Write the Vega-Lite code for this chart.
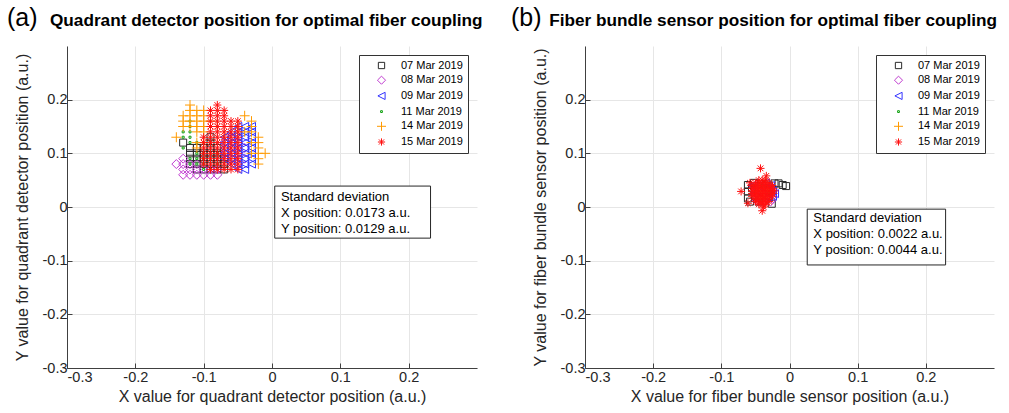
{
  "$schema": "https://vega.github.io/schema/vega-lite/v6.json",
  "background": "white",
  "padding": {"left": 7, "top": 6, "right": 5, "bottom": 2},
  "spacing": 28,
  "datasets": {
    "quad": [
      {"date":"07 Mar 2019","x":-0.13,"y":0.12},{"date":"07 Mar 2019","x":-0.12,"y":0.11},{"date":"07 Mar 2019","x":-0.12,"y":0.10},{"date":"07 Mar 2019","x":-0.12,"y":0.09},{"date":"07 Mar 2019","x":-0.12,"y":0.08},
      {"date":"07 Mar 2019","x":-0.11,"y":0.11},{"date":"07 Mar 2019","x":-0.11,"y":0.10},{"date":"07 Mar 2019","x":-0.11,"y":0.09},{"date":"07 Mar 2019","x":-0.11,"y":0.08},{"date":"07 Mar 2019","x":-0.11,"y":0.07},
      {"date":"07 Mar 2019","x":-0.10,"y":0.11},{"date":"07 Mar 2019","x":-0.10,"y":0.10},{"date":"07 Mar 2019","x":-0.10,"y":0.09},{"date":"07 Mar 2019","x":-0.10,"y":0.08},{"date":"07 Mar 2019","x":-0.10,"y":0.07},
      {"date":"07 Mar 2019","x":-0.09,"y":0.13},{"date":"07 Mar 2019","x":-0.09,"y":0.12},{"date":"07 Mar 2019","x":-0.09,"y":0.11},{"date":"07 Mar 2019","x":-0.09,"y":0.10},{"date":"07 Mar 2019","x":-0.09,"y":0.09},{"date":"07 Mar 2019","x":-0.09,"y":0.08},{"date":"07 Mar 2019","x":-0.09,"y":0.07},
      {"date":"07 Mar 2019","x":-0.08,"y":0.11},{"date":"07 Mar 2019","x":-0.08,"y":0.10},{"date":"07 Mar 2019","x":-0.08,"y":0.09},{"date":"07 Mar 2019","x":-0.08,"y":0.08},{"date":"07 Mar 2019","x":-0.08,"y":0.07},
      {"date":"07 Mar 2019","x":-0.07,"y":0.09},{"date":"07 Mar 2019","x":-0.07,"y":0.08},{"date":"07 Mar 2019","x":-0.07,"y":0.07},

      {"date":"08 Mar 2019","x":-0.14,"y":0.08},{"date":"08 Mar 2019","x":-0.13,"y":0.09},{"date":"08 Mar 2019","x":-0.13,"y":0.08},{"date":"08 Mar 2019","x":-0.13,"y":0.07},{"date":"08 Mar 2019","x":-0.13,"y":0.06},
      {"date":"08 Mar 2019","x":-0.12,"y":0.08},{"date":"08 Mar 2019","x":-0.12,"y":0.07},{"date":"08 Mar 2019","x":-0.12,"y":0.06},{"date":"08 Mar 2019","x":-0.11,"y":0.08},{"date":"08 Mar 2019","x":-0.11,"y":0.07},{"date":"08 Mar 2019","x":-0.11,"y":0.06},
      {"date":"08 Mar 2019","x":-0.10,"y":0.07},{"date":"08 Mar 2019","x":-0.10,"y":0.06},{"date":"08 Mar 2019","x":-0.09,"y":0.07},{"date":"08 Mar 2019","x":-0.09,"y":0.06},{"date":"08 Mar 2019","x":-0.08,"y":0.07},{"date":"08 Mar 2019","x":-0.08,"y":0.06},
      {"date":"08 Mar 2019","x":-0.07,"y":0.10},{"date":"08 Mar 2019","x":-0.07,"y":0.12},{"date":"08 Mar 2019","x":-0.06,"y":0.09},{"date":"08 Mar 2019","x":-0.06,"y":0.11},{"date":"08 Mar 2019","x":-0.06,"y":0.13},
      {"date":"08 Mar 2019","x":-0.05,"y":0.08},{"date":"08 Mar 2019","x":-0.05,"y":0.10},{"date":"08 Mar 2019","x":-0.05,"y":0.12},{"date":"08 Mar 2019","x":-0.04,"y":0.09},{"date":"08 Mar 2019","x":-0.04,"y":0.11},

      {"date":"09 Mar 2019","x":-0.07,"y":0.09},{"date":"09 Mar 2019","x":-0.07,"y":0.10},{"date":"09 Mar 2019","x":-0.07,"y":0.11},{"date":"09 Mar 2019","x":-0.07,"y":0.12},{"date":"09 Mar 2019","x":-0.07,"y":0.13},
      {"date":"09 Mar 2019","x":-0.06,"y":0.08},{"date":"09 Mar 2019","x":-0.06,"y":0.09},{"date":"09 Mar 2019","x":-0.06,"y":0.10},{"date":"09 Mar 2019","x":-0.06,"y":0.11},{"date":"09 Mar 2019","x":-0.06,"y":0.12},{"date":"09 Mar 2019","x":-0.06,"y":0.13},{"date":"09 Mar 2019","x":-0.06,"y":0.14},
      {"date":"09 Mar 2019","x":-0.05,"y":0.07},{"date":"09 Mar 2019","x":-0.05,"y":0.08},{"date":"09 Mar 2019","x":-0.05,"y":0.09},{"date":"09 Mar 2019","x":-0.05,"y":0.10},{"date":"09 Mar 2019","x":-0.05,"y":0.11},{"date":"09 Mar 2019","x":-0.05,"y":0.12},{"date":"09 Mar 2019","x":-0.05,"y":0.13},{"date":"09 Mar 2019","x":-0.05,"y":0.14},{"date":"09 Mar 2019","x":-0.05,"y":0.15},
      {"date":"09 Mar 2019","x":-0.04,"y":0.07},{"date":"09 Mar 2019","x":-0.04,"y":0.08},{"date":"09 Mar 2019","x":-0.04,"y":0.09},{"date":"09 Mar 2019","x":-0.04,"y":0.10},{"date":"09 Mar 2019","x":-0.04,"y":0.11},{"date":"09 Mar 2019","x":-0.04,"y":0.12},{"date":"09 Mar 2019","x":-0.04,"y":0.13},{"date":"09 Mar 2019","x":-0.04,"y":0.14},{"date":"09 Mar 2019","x":-0.04,"y":0.15},
      {"date":"09 Mar 2019","x":-0.03,"y":0.08},{"date":"09 Mar 2019","x":-0.03,"y":0.09},{"date":"09 Mar 2019","x":-0.03,"y":0.10},{"date":"09 Mar 2019","x":-0.03,"y":0.11},{"date":"09 Mar 2019","x":-0.03,"y":0.12},{"date":"09 Mar 2019","x":-0.03,"y":0.13},{"date":"09 Mar 2019","x":-0.03,"y":0.14},{"date":"09 Mar 2019","x":-0.03,"y":0.15},

      {"date":"11 Mar 2019","x":-0.13,"y":0.14},{"date":"11 Mar 2019","x":-0.13,"y":0.13},{"date":"11 Mar 2019","x":-0.13,"y":0.11},{"date":"11 Mar 2019","x":-0.12,"y":0.16},{"date":"11 Mar 2019","x":-0.12,"y":0.15},
      {"date":"11 Mar 2019","x":-0.12,"y":0.14},{"date":"11 Mar 2019","x":-0.12,"y":0.13},{"date":"11 Mar 2019","x":-0.12,"y":0.12},{"date":"11 Mar 2019","x":-0.11,"y":0.10},{"date":"11 Mar 2019","x":-0.11,"y":0.09},
      {"date":"11 Mar 2019","x":-0.11,"y":0.08},{"date":"11 Mar 2019","x":-0.10,"y":0.10},{"date":"11 Mar 2019","x":-0.10,"y":0.09},{"date":"11 Mar 2019","x":-0.10,"y":0.08},{"date":"11 Mar 2019","x":-0.10,"y":0.07},
      {"date":"11 Mar 2019","x":-0.12,"y":0.09},{"date":"11 Mar 2019","x":-0.12,"y":0.08},{"date":"11 Mar 2019","x":-0.08,"y":0.10},{"date":"11 Mar 2019","x":-0.08,"y":0.08},{"date":"11 Mar 2019","x":-0.11,"y":0.12},

      {"date":"14 Mar 2019","x":-0.14,"y":0.13},{"date":"14 Mar 2019","x":-0.13,"y":0.17},{"date":"14 Mar 2019","x":-0.13,"y":0.16},{"date":"14 Mar 2019","x":-0.13,"y":0.15},{"date":"14 Mar 2019","x":-0.12,"y":0.19},
      {"date":"14 Mar 2019","x":-0.12,"y":0.18},{"date":"14 Mar 2019","x":-0.12,"y":0.17},{"date":"14 Mar 2019","x":-0.12,"y":0.16},{"date":"14 Mar 2019","x":-0.12,"y":0.15},{"date":"14 Mar 2019","x":-0.11,"y":0.18},
      {"date":"14 Mar 2019","x":-0.11,"y":0.17},{"date":"14 Mar 2019","x":-0.11,"y":0.16},{"date":"14 Mar 2019","x":-0.11,"y":0.15},{"date":"14 Mar 2019","x":-0.11,"y":0.14},{"date":"14 Mar 2019","x":-0.10,"y":0.18},
      {"date":"14 Mar 2019","x":-0.10,"y":0.17},{"date":"14 Mar 2019","x":-0.10,"y":0.16},{"date":"14 Mar 2019","x":-0.10,"y":0.15},{"date":"14 Mar 2019","x":-0.10,"y":0.14},{"date":"14 Mar 2019","x":-0.09,"y":0.16},
      {"date":"14 Mar 2019","x":-0.09,"y":0.15},{"date":"14 Mar 2019","x":-0.08,"y":0.15},{"date":"14 Mar 2019","x":-0.11,"y":0.12},{"date":"14 Mar 2019","x":-0.10,"y":0.12},{"date":"14 Mar 2019","x":-0.11,"y":0.11},
      {"date":"14 Mar 2019","x":-0.04,"y":0.17},{"date":"14 Mar 2019","x":-0.03,"y":0.16},{"date":"14 Mar 2019","x":-0.03,"y":0.15},{"date":"14 Mar 2019","x":-0.03,"y":0.14},{"date":"14 Mar 2019","x":-0.02,"y":0.13},
      {"date":"14 Mar 2019","x":-0.02,"y":0.12},{"date":"14 Mar 2019","x":-0.02,"y":0.11},{"date":"14 Mar 2019","x":-0.02,"y":0.10},{"date":"14 Mar 2019","x":-0.01,"y":0.10},{"date":"14 Mar 2019","x":-0.02,"y":0.09},
      {"date":"14 Mar 2019","x":-0.02,"y":0.08},{"date":"14 Mar 2019","x":-0.03,"y":0.12},{"date":"14 Mar 2019","x":-0.03,"y":0.10},{"date":"14 Mar 2019","x":-0.04,"y":0.14},{"date":"14 Mar 2019","x":-0.05,"y":0.15},

      {"date":"15 Mar 2019","x":-0.08,"y":0.19},{"date":"15 Mar 2019","x":-0.09,"y":0.18},{"date":"15 Mar 2019","x":-0.08,"y":0.18},{"date":"15 Mar 2019","x":-0.07,"y":0.18},{"date":"15 Mar 2019","x":-0.09,"y":0.17},{"date":"15 Mar 2019","x":-0.08,"y":0.17},{"date":"15 Mar 2019","x":-0.07,"y":0.17},
      {"date":"15 Mar 2019","x":-0.10,"y":0.08},{"date":"15 Mar 2019","x":-0.10,"y":0.09},{"date":"15 Mar 2019","x":-0.10,"y":0.10},{"date":"15 Mar 2019","x":-0.10,"y":0.11},{"date":"15 Mar 2019","x":-0.10,"y":0.12},{"date":"15 Mar 2019","x":-0.10,"y":0.13},
      {"date":"15 Mar 2019","x":-0.09,"y":0.07},{"date":"15 Mar 2019","x":-0.09,"y":0.08},{"date":"15 Mar 2019","x":-0.09,"y":0.09},{"date":"15 Mar 2019","x":-0.09,"y":0.10},{"date":"15 Mar 2019","x":-0.09,"y":0.11},{"date":"15 Mar 2019","x":-0.09,"y":0.12},{"date":"15 Mar 2019","x":-0.09,"y":0.13},{"date":"15 Mar 2019","x":-0.09,"y":0.14},{"date":"15 Mar 2019","x":-0.09,"y":0.15},{"date":"15 Mar 2019","x":-0.09,"y":0.16},
      {"date":"15 Mar 2019","x":-0.08,"y":0.07},{"date":"15 Mar 2019","x":-0.08,"y":0.08},{"date":"15 Mar 2019","x":-0.08,"y":0.09},{"date":"15 Mar 2019","x":-0.08,"y":0.10},{"date":"15 Mar 2019","x":-0.08,"y":0.11},{"date":"15 Mar 2019","x":-0.08,"y":0.12},{"date":"15 Mar 2019","x":-0.08,"y":0.13},{"date":"15 Mar 2019","x":-0.08,"y":0.14},{"date":"15 Mar 2019","x":-0.08,"y":0.15},{"date":"15 Mar 2019","x":-0.08,"y":0.16},
      {"date":"15 Mar 2019","x":-0.07,"y":0.07},{"date":"15 Mar 2019","x":-0.07,"y":0.08},{"date":"15 Mar 2019","x":-0.07,"y":0.09},{"date":"15 Mar 2019","x":-0.07,"y":0.10},{"date":"15 Mar 2019","x":-0.07,"y":0.11},{"date":"15 Mar 2019","x":-0.07,"y":0.12},{"date":"15 Mar 2019","x":-0.07,"y":0.13},{"date":"15 Mar 2019","x":-0.07,"y":0.14},{"date":"15 Mar 2019","x":-0.07,"y":0.15},{"date":"15 Mar 2019","x":-0.07,"y":0.16},
      {"date":"15 Mar 2019","x":-0.06,"y":0.07},{"date":"15 Mar 2019","x":-0.06,"y":0.08},{"date":"15 Mar 2019","x":-0.06,"y":0.09},{"date":"15 Mar 2019","x":-0.06,"y":0.10},{"date":"15 Mar 2019","x":-0.06,"y":0.11},{"date":"15 Mar 2019","x":-0.06,"y":0.12},{"date":"15 Mar 2019","x":-0.06,"y":0.13},{"date":"15 Mar 2019","x":-0.06,"y":0.14},{"date":"15 Mar 2019","x":-0.06,"y":0.15},{"date":"15 Mar 2019","x":-0.06,"y":0.16},
      {"date":"15 Mar 2019","x":-0.05,"y":0.07},{"date":"15 Mar 2019","x":-0.05,"y":0.08},{"date":"15 Mar 2019","x":-0.05,"y":0.09},{"date":"15 Mar 2019","x":-0.05,"y":0.10},{"date":"15 Mar 2019","x":-0.05,"y":0.11},{"date":"15 Mar 2019","x":-0.05,"y":0.12},{"date":"15 Mar 2019","x":-0.05,"y":0.13},{"date":"15 Mar 2019","x":-0.05,"y":0.14},{"date":"15 Mar 2019","x":-0.05,"y":0.15},{"date":"15 Mar 2019","x":-0.05,"y":0.16}
    ],
    "fiber": [
      {"date":"07 Mar 2019","x":-0.061,"y":0.041},{"date":"07 Mar 2019","x":-0.061,"y":0.029},{"date":"07 Mar 2019","x":-0.061,"y":0.016},{"date":"07 Mar 2019","x":-0.055,"y":0.035},{"date":"07 Mar 2019","x":-0.050,"y":0.020},
      {"date":"07 Mar 2019","x":-0.045,"y":0.030},{"date":"07 Mar 2019","x":-0.040,"y":0.025},{"date":"07 Mar 2019","x":-0.035,"y":0.035},{"date":"07 Mar 2019","x":-0.030,"y":0.020},{"date":"07 Mar 2019","x":-0.026,"y":0.006},
      {"date":"07 Mar 2019","x":-0.022,"y":0.044},{"date":"07 Mar 2019","x":-0.016,"y":0.044},{"date":"07 Mar 2019","x":-0.010,"y":0.041},{"date":"07 Mar 2019","x":-0.005,"y":0.039},{"date":"07 Mar 2019","x":-0.045,"y":0.010},
      {"date":"07 Mar 2019","x":-0.030,"y":0.040},{"date":"07 Mar 2019","x":-0.052,"y":0.045},{"date":"07 Mar 2019","x":-0.058,"y":0.010},
      {"date":"08 Mar 2019","x":-0.050,"y":0.030},{"date":"08 Mar 2019","x":-0.045,"y":0.020},{"date":"08 Mar 2019","x":-0.040,"y":0.015},{"date":"08 Mar 2019","x":-0.035,"y":0.025},{"date":"08 Mar 2019","x":-0.030,"y":0.030},
      {"date":"08 Mar 2019","x":-0.025,"y":0.015},{"date":"08 Mar 2019","x":-0.028,"y":0.010},{"date":"08 Mar 2019","x":-0.042,"y":0.035},{"date":"08 Mar 2019","x":-0.036,"y":0.012},{"date":"08 Mar 2019","x":-0.048,"y":0.012},
      {"date":"09 Mar 2019","x":-0.055,"y":0.040},{"date":"09 Mar 2019","x":-0.050,"y":0.035},{"date":"09 Mar 2019","x":-0.045,"y":0.040},{"date":"09 Mar 2019","x":-0.035,"y":0.045},{"date":"09 Mar 2019","x":-0.030,"y":0.035},{"date":"09 Mar 2019","x":-0.025,"y":0.030},
      {"date":"09 Mar 2019","x":-0.022,"y":0.025},{"date":"09 Mar 2019","x":-0.028,"y":0.040},{"date":"09 Mar 2019","x":-0.040,"y":0.030},{"date":"09 Mar 2019","x":-0.052,"y":0.025},{"date":"09 Mar 2019","x":-0.025,"y":0.020},{"date":"09 Mar 2019","x":-0.032,"y":0.018},
      {"date":"11 Mar 2019","x":-0.045,"y":0.045},{"date":"11 Mar 2019","x":-0.040,"y":0.040},{"date":"11 Mar 2019","x":-0.035,"y":0.038},{"date":"11 Mar 2019","x":-0.050,"y":0.028},{"date":"11 Mar 2019","x":-0.030,"y":0.025},{"date":"11 Mar 2019","x":-0.042,"y":0.012},{"date":"11 Mar 2019","x":-0.038,"y":0.048},{"date":"11 Mar 2019","x":-0.048,"y":0.018},
      {"date":"14 Mar 2019","x":-0.045,"y":0.035},{"date":"14 Mar 2019","x":-0.040,"y":0.030},{"date":"14 Mar 2019","x":-0.035,"y":0.028},{"date":"14 Mar 2019","x":-0.042,"y":0.022},{"date":"14 Mar 2019","x":-0.038,"y":0.018},{"date":"14 Mar 2019","x":-0.048,"y":0.030},{"date":"14 Mar 2019","x":-0.032,"y":0.032},{"date":"14 Mar 2019","x":-0.044,"y":0.040},
      {"date":"15 Mar 2019","x":-0.045,"y":0.050},{"date":"15 Mar 2019","x":-0.040,"y":0.050},{"date":"15 Mar 2019","x":-0.035,"y":0.050},
      {"date":"15 Mar 2019","x":-0.050,"y":0.045},{"date":"15 Mar 2019","x":-0.045,"y":0.045},{"date":"15 Mar 2019","x":-0.040,"y":0.045},{"date":"15 Mar 2019","x":-0.035,"y":0.045},{"date":"15 Mar 2019","x":-0.030,"y":0.045},
      {"date":"15 Mar 2019","x":-0.055,"y":0.040},{"date":"15 Mar 2019","x":-0.050,"y":0.040},{"date":"15 Mar 2019","x":-0.045,"y":0.040},{"date":"15 Mar 2019","x":-0.040,"y":0.040},{"date":"15 Mar 2019","x":-0.035,"y":0.040},{"date":"15 Mar 2019","x":-0.030,"y":0.040},{"date":"15 Mar 2019","x":-0.025,"y":0.040},
      {"date":"15 Mar 2019","x":-0.055,"y":0.035},{"date":"15 Mar 2019","x":-0.050,"y":0.035},{"date":"15 Mar 2019","x":-0.045,"y":0.035},{"date":"15 Mar 2019","x":-0.040,"y":0.035},{"date":"15 Mar 2019","x":-0.035,"y":0.035},{"date":"15 Mar 2019","x":-0.030,"y":0.035},{"date":"15 Mar 2019","x":-0.025,"y":0.035},
      {"date":"15 Mar 2019","x":-0.055,"y":0.030},{"date":"15 Mar 2019","x":-0.050,"y":0.030},{"date":"15 Mar 2019","x":-0.045,"y":0.030},{"date":"15 Mar 2019","x":-0.040,"y":0.030},{"date":"15 Mar 2019","x":-0.035,"y":0.030},{"date":"15 Mar 2019","x":-0.030,"y":0.030},{"date":"15 Mar 2019","x":-0.025,"y":0.030},
      {"date":"15 Mar 2019","x":-0.055,"y":0.025},{"date":"15 Mar 2019","x":-0.050,"y":0.025},{"date":"15 Mar 2019","x":-0.045,"y":0.025},{"date":"15 Mar 2019","x":-0.040,"y":0.025},{"date":"15 Mar 2019","x":-0.035,"y":0.025},{"date":"15 Mar 2019","x":-0.030,"y":0.025},{"date":"15 Mar 2019","x":-0.025,"y":0.025},
      {"date":"15 Mar 2019","x":-0.055,"y":0.020},{"date":"15 Mar 2019","x":-0.050,"y":0.020},{"date":"15 Mar 2019","x":-0.045,"y":0.020},{"date":"15 Mar 2019","x":-0.040,"y":0.020},{"date":"15 Mar 2019","x":-0.035,"y":0.020},{"date":"15 Mar 2019","x":-0.030,"y":0.020},{"date":"15 Mar 2019","x":-0.025,"y":0.020},
      {"date":"15 Mar 2019","x":-0.050,"y":0.015},{"date":"15 Mar 2019","x":-0.045,"y":0.015},{"date":"15 Mar 2019","x":-0.040,"y":0.015},{"date":"15 Mar 2019","x":-0.035,"y":0.015},{"date":"15 Mar 2019","x":-0.030,"y":0.015},
      {"date":"15 Mar 2019","x":-0.050,"y":0.010},{"date":"15 Mar 2019","x":-0.045,"y":0.010},{"date":"15 Mar 2019","x":-0.040,"y":0.010},{"date":"15 Mar 2019","x":-0.035,"y":0.010},{"date":"15 Mar 2019","x":-0.030,"y":0.010},
      {"date":"15 Mar 2019","x":-0.045,"y":0.005},{"date":"15 Mar 2019","x":-0.040,"y":0.005},{"date":"15 Mar 2019","x":-0.035,"y":0.005},
      {"date":"15 Mar 2019","x":-0.0425,"y":0.072},{"date":"15 Mar 2019","x":-0.034,"y":0.058},{"date":"15 Mar 2019","x":-0.071,"y":0.029},{"date":"15 Mar 2019","x":-0.040,"y":-0.007},
      {"date":"15 Mar 2019","x":-0.061,"y":0.007},{"date":"15 Mar 2019","x":-0.038,"y":0.000},{"date":"15 Mar 2019","x":-0.058,"y":0.045},{"date":"15 Mar 2019","x":-0.022,"y":0.030}
    ]
  },
  "hconcat": [
    {
      "title": {"text": "(a)", "dx": -7, "subtitle": "\u200b\u00a0\u00a0\u00a0\u00a0\u00a0\u00a0\u00a0\u00a0\u00a0Quadrant detector position for optimal fiber coupling"},
      "width": 410,
      "height": 322,
      "layer": [
        {
          "data": {"values": [{}]},
          "mark": {"type": "rect", "fill": "white", "stroke": "#262626", "strokeWidth": 1},
          "encoding": {
            "x": {"datum": 0.004, "type": "quantitative"},
            "x2": {"datum": 0.232},
            "y": {"datum": 0.039, "type": "quantitative"},
            "y2": {"datum": -0.058}
          }
        },
        {
          "data": {"values": [{}]},
          "mark": {"type": "text", "align": "left", "baseline": "top", "fontSize": 13, "lineHeight": 16, "color": "black"},
          "encoding": {
            "x": {"datum": 0.013, "type": "quantitative"},
            "y": {"datum": 0.030, "type": "quantitative"},
            "text": {"value": ["Standard deviation", "X position: 0.0173 a.u.", "Y position: 0.0129 a.u."]}
          }
        },
        {
          "data": {"name": "quad"},
          "mark": {"type": "point", "filled": false, "strokeWidth": 1, "opacity": 1, "size": 100},
          "encoding": {
            "x": {"field": "x", "type": "quantitative", "scale": {"domain": [-0.3, 0.3], "nice": false, "zero": false},
                  "axis": {"title": "X value  for quadrant detector position (a.u.)", "values": [-0.3, -0.2, -0.1, 0, 0.1, 0.2], "format": ".1~f", "labelExpr": "replace(datum.label, '\u2212', '-')"}},
            "y": {"field": "y", "type": "quantitative", "scale": {"domain": [-0.3, 0.3], "nice": false, "zero": false},
                  "axis": {"title": "Y value  for quadrant detector position (a.u.)", "values": [-0.3, -0.2, -0.1, 0, 0.1, 0.2], "format": ".1~f", "labelExpr": "replace(datum.label, '\u2212', '-')"}},
            "shape": {"field": "date", "type": "nominal", "legend": {"title": null},
                      "scale": {"domain": ["07 Mar 2019","08 Mar 2019","09 Mar 2019","11 Mar 2019","14 Mar 2019","15 Mar 2019"],
                                "range": ["M-0.7,-0.7L0.7,-0.7L0.7,0.7L-0.7,0.7Z", "M0,-0.9L0.9,0L0,0.9L-0.9,0Z", "M-0.8,0L0.8,-0.8L0.8,0.8Z", "M-0.2,-0.2L0.2,-0.2L0.2,0.2L-0.2,0.2Z", "M-1,0L1,0M0,-1L0,1", "M-0.8,0L0.8,0M0,-0.8L0,0.8M-0.57,-0.57L0.57,0.57M-0.57,0.57L0.57,-0.57"]}},
            "color": {"field": "date", "type": "nominal", "legend": {"title": null},
                      "scale": {"domain": ["07 Mar 2019","08 Mar 2019","09 Mar 2019","11 Mar 2019","14 Mar 2019","15 Mar 2019"],
                                "range": ["#2a2a2a", "#c03cd0", "#3333ff", "#10a010", "#ff9a00", "#ff1010"]}}
          }
        }
      ]
    },
    {
      "title": {"text": "(b)", "dx": -21, "subtitle": "\u200b\u00a0\u00a0\u00a0\u00a0\u00a0\u00a0\u00a0\u00a0Fiber bundle sensor position for optimal fiber coupling"},
      "width": 409,
      "height": 322,
      "layer": [
        {
          "data": {"values": [{}]},
          "mark": {"type": "rect", "fill": "white", "stroke": "#262626", "strokeWidth": 1},
          "encoding": {
            "x": {"datum": 0.026, "type": "quantitative"},
            "x2": {"datum": 0.229},
            "y": {"datum": -0.004, "type": "quantitative"},
            "y2": {"datum": -0.108}
          }
        },
        {
          "data": {"values": [{}]},
          "mark": {"type": "text", "align": "left", "baseline": "top", "fontSize": 13, "lineHeight": 16, "color": "black"},
          "encoding": {
            "x": {"datum": 0.035, "type": "quantitative"},
            "y": {"datum": -0.010, "type": "quantitative"},
            "text": {"value": ["Standard deviation", "X position: 0.0022 a.u.", "Y position: 0.0044 a.u."]}
          }
        },
        {
          "data": {"name": "fiber"},
          "mark": {"type": "point", "filled": false, "strokeWidth": 1, "opacity": 1, "size": 100},
          "encoding": {
            "x": {"field": "x", "type": "quantitative", "scale": {"domain": [-0.3, 0.3], "nice": false, "zero": false},
                  "axis": {"title": "X value for fiber bundle sensor position (a.u.)", "values": [-0.3, -0.2, -0.1, 0, 0.1, 0.2], "format": ".1~f", "labelExpr": "replace(datum.label, '\u2212', '-')"}},
            "y": {"field": "y", "type": "quantitative", "scale": {"domain": [-0.3, 0.3], "nice": false, "zero": false},
                  "axis": {"title": "Y value for fiber bundle sensor position (a.u.)", "values": [-0.3, -0.2, -0.1, 0, 0.1, 0.2], "format": ".1~f", "labelExpr": "replace(datum.label, '\u2212', '-')"}},
            "shape": {"field": "date", "type": "nominal", "legend": {"title": null},
                      "scale": {"domain": ["07 Mar 2019","08 Mar 2019","09 Mar 2019","11 Mar 2019","14 Mar 2019","15 Mar 2019"],
                                "range": ["M-0.7,-0.7L0.7,-0.7L0.7,0.7L-0.7,0.7Z", "M0,-0.9L0.9,0L0,0.9L-0.9,0Z", "M-0.8,0L0.8,-0.8L0.8,0.8Z", "M-0.2,-0.2L0.2,-0.2L0.2,0.2L-0.2,0.2Z", "M-1,0L1,0M0,-1L0,1", "M-0.8,0L0.8,0M0,-0.8L0,0.8M-0.57,-0.57L0.57,0.57M-0.57,0.57L0.57,-0.57"]}},
            "color": {"field": "date", "type": "nominal", "legend": {"title": null},
                      "scale": {"domain": ["07 Mar 2019","08 Mar 2019","09 Mar 2019","11 Mar 2019","14 Mar 2019","15 Mar 2019"],
                                "range": ["#2a2a2a", "#c03cd0", "#3333ff", "#10a010", "#ff9a00", "#ff1010"]}}
          }
        }
      ]
    }
  ],
  "resolve": {"scale": {"color": "independent", "shape": "independent"}},
  "config": {
    "font": "Liberation Sans",
    "view": {"stroke": null},
    "axis": {
      "grid": true, "gridColor": "#e6e6e6", "gridWidth": 1,
      "domainColor": "#404040", "tickColor": "#404040", "tickSize": -5,
      "labelFontSize": 14.5, "labelColor": "#262626", "labelPadding": 5,
      "titleFontSize": 16, "titleFontWeight": "normal", "titleColor": "#262626"
    },
    "axisX": {"titlePadding": 5, "labelPadding": 7},
    "axisY": {"titlePadding": 12},
    "legend": {
      "orient": "top-right", "offset": 9, "strokeColor": "#333333", "fillColor": "white",
      "padding": 5, "labelFontSize": 11, "labelColor": "black", "symbolOffset": 12, "labelOffset": 14,
      "rowPadding": 2.7, "symbolStrokeWidth": 1, "symbolSize": 81
    },
    "title": {
      "anchor": "start", "frame": "bounds", "fontSize": 25, "fontWeight": "normal", "color": "black",
      "subtitleFontSize": 17.2, "subtitleFontWeight": "bold", "subtitleColor": "black", "subtitlePadding": -19, "offset": 15
    }
  }
}
